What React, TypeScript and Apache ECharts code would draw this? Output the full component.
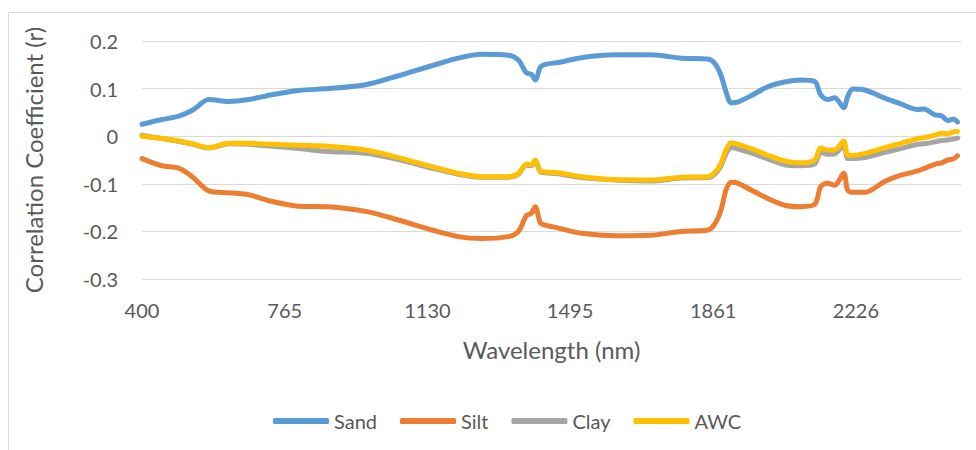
import React, { useEffect, useRef } from "react";
import * as echarts from "echarts";

const wavelengths = [400, 451, 494, 530, 571, 622, 673, 732, 801, 877, 972, 1056, 1141, 1209, 1268, 1337, 1363, 1383, 1396, 1406, 1419, 1432, 1465, 1524, 1610, 1702, 1779, 1848, 1866, 1881, 1894, 1907, 1925, 1958, 2001, 2044, 2085, 2121, 2136, 2154, 2172, 2195, 2205, 2218, 2249, 2300, 2341, 2384, 2400, 2428, 2445, 2461, 2475, 2486];

const sand = [0.025, 0.035, 0.042, 0.055, 0.077, 0.073, 0.077, 0.087, 0.096, 0.1, 0.108, 0.127, 0.148, 0.164, 0.172, 0.17, 0.16, 0.133, 0.13, 0.118, 0.145, 0.151, 0.155, 0.165, 0.171, 0.171, 0.164, 0.162, 0.152, 0.128, 0.093, 0.07, 0.072, 0.085, 0.104, 0.114, 0.118, 0.115, 0.087, 0.077, 0.081, 0.06, 0.083, 0.099, 0.097, 0.08, 0.068, 0.056, 0.057, 0.045, 0.043, 0.033, 0.036, 0.03];

const silt = [-0.047, -0.062, -0.067, -0.086, -0.115, -0.119, -0.123, -0.137, -0.147, -0.148, -0.158, -0.176, -0.197, -0.211, -0.215, -0.211, -0.2, -0.167, -0.162, -0.148, -0.182, -0.187, -0.193, -0.204, -0.209, -0.208, -0.2, -0.197, -0.183, -0.155, -0.113, -0.097, -0.099, -0.113, -0.131, -0.145, -0.148, -0.143, -0.106, -0.099, -0.103, -0.078, -0.113, -0.118, -0.118, -0.095, -0.082, -0.073, -0.068, -0.059, -0.056, -0.05, -0.048, -0.041];

const clay = [0.002, -0.005, -0.011, -0.017, -0.025, -0.016, -0.017, -0.021, -0.026, -0.032, -0.036, -0.049, -0.067, -0.08, -0.086, -0.086, -0.08, -0.061, -0.062, -0.053, -0.075, -0.077, -0.079, -0.087, -0.092, -0.094, -0.088, -0.087, -0.079, -0.062, -0.037, -0.024, -0.027, -0.035, -0.048, -0.06, -0.062, -0.058, -0.034, -0.038, -0.037, -0.02, -0.047, -0.047, -0.045, -0.034, -0.026, -0.017, -0.016, -0.012, -0.009, -0.008, -0.006, -0.004];

const awc = [0.0, -0.005, -0.01, -0.016, -0.024, -0.015, -0.015, -0.017, -0.019, -0.021, -0.029, -0.045, -0.064, -0.078, -0.085, -0.085, -0.078, -0.059, -0.06, -0.05, -0.073, -0.075, -0.077, -0.085, -0.091, -0.092, -0.086, -0.085, -0.075, -0.057, -0.029, -0.014, -0.017, -0.026, -0.04, -0.052, -0.056, -0.05, -0.025, -0.029, -0.029, -0.01, -0.04, -0.04, -0.036, -0.024, -0.015, -0.005, -0.003, 0.002, 0.006, 0.005, 0.009, 0.01];

const xTickLabels = [400, 765, 1130, 1495, 1861, 2226];

const seriesNames = ["Sand", "Silt", "Clay", "AWC"];
const seriesColors = ["#5B9BD5", "#ED7D31", "#A5A5A5", "#FFC000"];
const seriesValues = [sand, silt, clay, awc];

const FONT = "Lato, 'Open Sans', sans-serif";
const TEXT = "#595959";

export default function App() {
  const ref = useRef<HTMLDivElement>(null);
  useEffect(() => {
    if (!ref.current) return;
    const chart = echarts.init(ref.current, undefined, { renderer: "svg" });
    chart.setOption({
      animation: false,
      backgroundColor: "#ffffff",
      textStyle: { fontFamily: FONT, color: TEXT },
      graphic: [
        {
          type: "rect",
          shape: { x: 8.5, y: 12.5, width: 1200, height: 1000 },
          style: { fill: "none", stroke: "#d9d9d9", lineWidth: 1 },
          silent: true,
        },
      ],
      grid: { left: 142, right: 15, top: 41, bottom: 171, containLabel: false },
      legend: {
        left: 268,
        top: 406,
        itemWidth: 56,
        itemHeight: 6,
        itemGap: 23,
        icon: "roundRect",
        data: seriesNames,
        textStyle: { fontFamily: FONT, color: TEXT, fontSize: 20 },
      },
      xAxis: {
        type: "value",
        min: 400,
        max: 2495,
        name: "Wavelength (nm)",
        nameLocation: "middle",
        nameGap: 58,
        nameTextStyle: { fontFamily: FONT, color: TEXT, fontSize: 24 },
        axisLine: { show: false },
        axisTick: { show: false },
        splitLine: { show: false },
        axisLabel: {
          customValues: xTickLabels,
          color: TEXT,
          fontFamily: FONT,
          fontSize: 20,
          margin: 21,
          formatter: (v: number) => String(v),
        },
      },
      yAxis: {
        type: "value",
        min: -0.3,
        max: 0.2,
        interval: 0.1,
        name: "Correlation Coefficient (r)",
        nameLocation: "middle",
        nameRotate: 90,
        nameGap: 97,
        nameTextStyle: { fontFamily: FONT, color: TEXT, fontSize: 24 },
        axisLine: { show: false },
        axisTick: { show: false },
        splitLine: { lineStyle: { color: "#d9d9d9", width: 1 } },
        axisLabel: {
          color: TEXT,
          fontFamily: FONT,
          fontSize: 20,
          margin: 24,
          formatter: (v: number) => String(Math.round(v * 10) / 10),
        },
      },
      series: seriesNames.map((name, i) => ({
        name,
        type: "line",
        symbol: "none",
        smooth: 0.3,
        color: seriesColors[i],
        lineStyle: { color: seriesColors[i], width: 5, cap: "round", join: "round" },
        itemStyle: { color: seriesColors[i] },
        data: wavelengths.map((w, j) => [w, seriesValues[i][j]]),
      })),
    });
    return () => chart.dispose();
  }, []);
  return (
    <div
      ref={ref}
      style={{ position: "absolute", left: 0, top: 0, width: 976, height: 450 }}
    />
  );
}
